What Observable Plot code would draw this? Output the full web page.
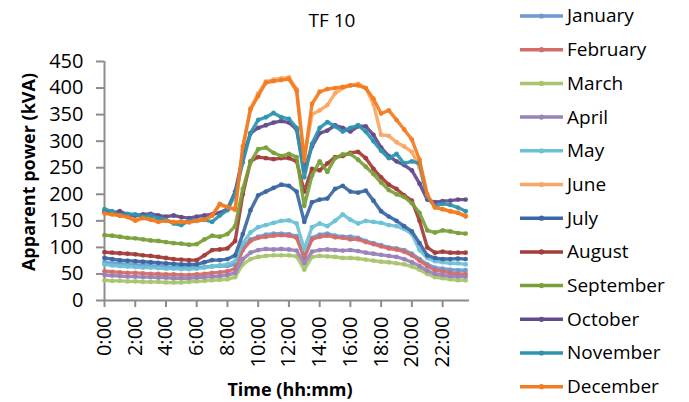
<!DOCTYPE html>
<html><head><meta charset="utf-8">
<script src="https://cdn.jsdelivr.net/npm/d3@7"></script>
<script src="https://cdn.jsdelivr.net/npm/@observablehq/plot@0.6"></script>
<style>
body{margin:0;background:#fff;font-family:"Open Sans",sans-serif;color:#000;}
#wrap{position:relative;width:689px;height:402px;overflow:hidden;}
#wrap svg{display:block;}
.lbl{position:absolute;white-space:nowrap;font-family:"Open Sans",sans-serif;}
</style></head><body><div id="wrap"></div>
<script>
const months=["January","February","March","April","May","June","July","August","September","October","November","December"];
const colors=["#6B9BD2","#D46C6A","#A9C46C","#9982B8","#6CC1D6","#F9A766","#3A67A3","#A33C3A","#7AA03B","#634B8C","#2E93AF","#F27C21"];
const xTicks=[0,2,4,6,8,10,12,14,16,18,20,22];
const xTickLabels=["0:00","2:00","4:00","6:00","8:00","10:00","12:00","14:00","16:00","18:00","20:00","22:00"];
const yTicks=[0,50,100,150,200,250,300,350,400,450];
// half-hourly values, 0:00 .. 23:30
const jan=[72,70,70,68,67,66,65,64,63,62,62,62,62,63,64,65,65,68,100,115,120,124,126,126,125,121,82,118,124,126,122,120,120,118,112,108,104,100,98,95,88,78,68,62,60,58,57,57];
const feb=[55,54,53,52,52,51,50,50,49,49,48,48,49,50,52,53,55,60,95,112,118,120,122,123,122,118,80,115,120,122,119,118,115,115,110,106,102,98,96,92,85,75,65,57,55,52,50,50];
const mar=[38,37,37,36,36,35,35,35,34,34,34,35,36,37,38,39,40,44,68,78,82,84,85,85,85,83,58,82,84,83,82,80,80,79,77,75,73,72,70,68,64,58,50,44,42,40,38,38];
const apr=[48,47,46,45,45,44,44,43,43,42,42,42,43,44,45,46,48,52,78,90,95,97,96,97,96,94,70,92,95,96,95,94,95,93,90,88,86,84,82,78,72,65,56,50,48,46,45,45];
const may=[68,66,65,64,63,62,62,61,60,60,59,59,60,62,64,66,68,74,108,128,138,142,146,150,151,145,97,138,145,140,150,162,152,145,150,148,146,142,140,135,125,95,80,74,72,70,70,68];
const jun=[166,163,160,158,152,156,153,150,151,148,149,148,151,153,160,180,175,170,285,362,390,412,416,418,420,398,270,350,358,368,390,400,405,408,400,370,312,310,298,290,280,250,195,176,172,168,165,160];
const jul=[80,78,76,75,74,73,72,71,70,69,68,68,68,72,76,76,78,85,125,170,198,205,212,218,216,205,148,185,190,192,210,216,205,203,207,188,168,158,150,140,130,108,85,80,78,78,79,78];
const aug=[91,90,89,88,87,85,84,82,80,78,77,76,76,85,95,96,98,112,200,262,270,268,266,268,268,262,205,248,245,258,270,272,278,280,268,248,232,218,210,198,188,150,100,90,92,90,90,90];
const sep=[123,122,120,118,117,115,113,112,110,108,107,105,106,115,122,120,125,140,210,260,285,288,278,272,276,270,178,235,262,242,268,275,276,265,252,238,222,208,200,195,183,165,132,128,132,130,127,126];
const oct=[168,165,168,162,160,162,163,160,158,160,157,155,158,160,162,165,172,205,270,315,325,330,335,338,335,322,245,290,315,320,330,325,318,328,328,312,288,272,262,255,245,220,190,185,187,188,190,190];
const nov=[172,168,160,163,162,158,160,155,152,145,142,150,150,152,148,160,170,200,260,315,340,345,353,345,342,325,232,295,325,336,328,318,325,330,318,300,282,268,276,258,262,258,195,178,182,180,175,168];
const dec=[164,162,160,157,150,155,152,148,150,147,148,147,150,152,160,182,176,172,290,360,385,410,413,415,417,395,264,370,393,398,400,402,405,405,400,380,352,358,340,322,303,265,200,175,172,168,165,158];
const series=[jan,feb,mar,apr,may,jun,jul,aug,sep,oct,nov,dec];
const hours=d3.range(48).map(i=>i/2);

const perMonth=months.map((m,k)=>series[k].map((v,i)=>({month:m,t:hours[i],v})));
const marks=[
  Plot.axisY({ticks:yTicks,tickSize:8,tickPadding:13,stroke:"#8c8c8c",strokeWidth:2,label:null,fontSize:20}),
  Plot.axisX({ticks:xTicks,tickFormat:d=>xTickLabels[xTicks.indexOf(d)],tickRotate:-90,tickSize:7,tickPadding:9,stroke:"#8c8c8c",strokeWidth:2,label:null,fontSize:20}),
  Plot.ruleX([0],{stroke:"#8c8c8c",strokeWidth:2}),
  Plot.ruleY([0],{stroke:"#8c8c8c",strokeWidth:2})
];
perMonth.forEach((d,k)=>{
  marks.push(Plot.line(d,{x:"t",y:"v",stroke:"month",strokeWidth:3.4,strokeOpacity:0.92}));
  marks.push(Plot.dot(d,{x:"t",y:"v",fill:"month",r:2.4,fillOpacity:0.9,stroke:"none"}));
});
const chart=Plot.plot({
  width:689,height:402,marginLeft:104,marginRight:220,marginTop:61,marginBottom:102,
  style:{fontFamily:"Open Sans",fontSize:"20px",color:"#000",background:"#fff"},
  x:{domain:[0,23.75]},y:{domain:[0,450]},
  color:{domain:months,range:colors},
  marks
});
const wrap=document.getElementById("wrap");
wrap.appendChild(chart);

function addLabel(text,style){const d=document.createElement("div");d.className="lbl";d.textContent=text;Object.assign(d.style,style);wrap.appendChild(d);}
addLabel("TF 10",{left:"332px",top:"20px",transform:"translate(-50%,-50%)",fontSize:"19px"});
addLabel("Apparent power (kVA)",{left:"28px",top:"172px",transform:"translate(-50%,-50%) rotate(-90deg)",fontSize:"18px",fontWeight:"bold"});
addLabel("Time (hh:mm)",{left:"290px",top:"389px",transform:"translate(-50%,-50%)",fontSize:"18px",fontWeight:"bold"});

// legend
const leg=d3.select(wrap).append("svg").attr("width",169).attr("height",402)
  .style("position","absolute").style("left","520px").style("top","0px");
months.forEach((m,k)=>{
  const y=16+k*33.7;
  const g=leg.append("g").attr("transform",`translate(0,${y})`);
  g.append("line").attr("x1",0).attr("x2",43).attr("stroke",colors[k]).attr("stroke-width",3.5);
  g.append("circle").attr("cx",21.5).attr("r",2.6).attr("fill",colors[k]);
  g.append("text").attr("x",47).attr("dy","0.34em").attr("font-family","Open Sans").attr("font-size",19).text(m);
});
</script></body></html>
